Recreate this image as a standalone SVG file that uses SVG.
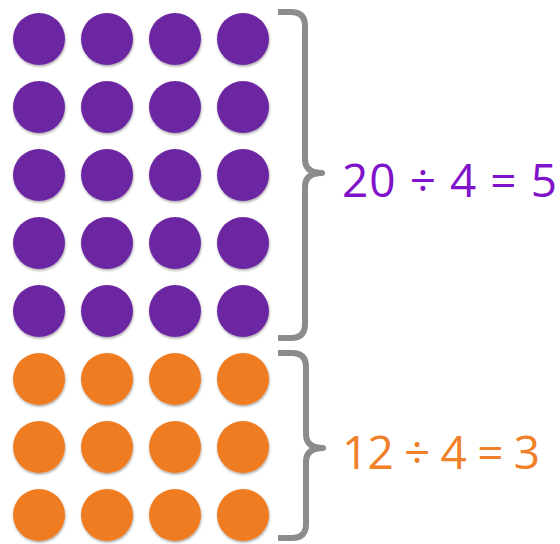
<svg xmlns="http://www.w3.org/2000/svg" width="560" height="544" viewBox="0 0 560 544">
<defs>
<filter id="sh" x="-20%" y="-20%" width="150%" height="150%">
<feDropShadow dx="0.5" dy="1.5" stdDeviation="1" flood-color="#000" flood-opacity="0.35"/>
</filter>
<style>
.p{fill:#6d28a1;filter:url(#sh)}
.o{fill:#f07b22;filter:url(#sh)}
.br{fill:none;stroke:#8c8c8c;stroke-width:6;stroke-linecap:butt;stroke-linejoin:round}
.t{font-family:"Open Sans","Noto Sans","Liberation Sans",sans-serif;font-size:46px}
</style>
</defs>
<rect width="560" height="544" fill="#fff"/>
<g id="purple">
<g id="p1-1"><circle class="p" cx="39" cy="39" r="26"/></g>
<g id="p1-2"><circle class="p" cx="107" cy="39" r="26"/></g>
<g id="p1-3"><circle class="p" cx="175" cy="39" r="26"/></g>
<g id="p1-4"><circle class="p" cx="243" cy="39" r="26"/></g>
<g id="p2-1"><circle class="p" cx="39" cy="107" r="26"/></g>
<g id="p2-2"><circle class="p" cx="107" cy="107" r="26"/></g>
<g id="p2-3"><circle class="p" cx="175" cy="107" r="26"/></g>
<g id="p2-4"><circle class="p" cx="243" cy="107" r="26"/></g>
<g id="p3-1"><circle class="p" cx="39" cy="175" r="26"/></g>
<g id="p3-2"><circle class="p" cx="107" cy="175" r="26"/></g>
<g id="p3-3"><circle class="p" cx="175" cy="175" r="26"/></g>
<g id="p3-4"><circle class="p" cx="243" cy="175" r="26"/></g>
<g id="p4-1"><circle class="p" cx="39" cy="243" r="26"/></g>
<g id="p4-2"><circle class="p" cx="107" cy="243" r="26"/></g>
<g id="p4-3"><circle class="p" cx="175" cy="243" r="26"/></g>
<g id="p4-4"><circle class="p" cx="243" cy="243" r="26"/></g>
<g id="p5-1"><circle class="p" cx="39" cy="311" r="26"/></g>
<g id="p5-2"><circle class="p" cx="107" cy="311" r="26"/></g>
<g id="p5-3"><circle class="p" cx="175" cy="311" r="26"/></g>
<g id="p5-4"><circle class="p" cx="243" cy="311" r="26"/></g>
</g>
<g id="orange">
<g id="o1-1"><circle class="o" cx="39" cy="379" r="26"/></g>
<g id="o1-2"><circle class="o" cx="107" cy="379" r="26"/></g>
<g id="o1-3"><circle class="o" cx="175" cy="379" r="26"/></g>
<g id="o1-4"><circle class="o" cx="243" cy="379" r="26"/></g>
<g id="o2-1"><circle class="o" cx="39" cy="447" r="26"/></g>
<g id="o2-2"><circle class="o" cx="107" cy="447" r="26"/></g>
<g id="o2-3"><circle class="o" cx="175" cy="447" r="26"/></g>
<g id="o2-4"><circle class="o" cx="243" cy="447" r="26"/></g>
<g id="o3-1"><circle class="o" cx="39" cy="515" r="26"/></g>
<g id="o3-2"><circle class="o" cx="107" cy="515" r="26"/></g>
<g id="o3-3"><circle class="o" cx="175" cy="515" r="26"/></g>
<g id="o3-4"><circle class="o" cx="243" cy="515" r="26"/></g>
</g>
<g id="braces">
<path class="br" d="M278,12 H291 Q305,12 305,26 V159 Q305,173 322,173 Q305,173 305,187 V324 Q305,338 291,338 H278"/>
<path class="br" d="M278,353 H292 Q306,353 306,367 V434 Q306,448 323,448 Q306,448 306,462 V524 Q306,538 292,538 H278"/>
</g>
<g id="label-purple"><text class="t" x="342" y="197" fill="#8012c9" textLength="215" lengthAdjust="spacing">20 ÷ 4 = 5</text></g>
<g id="label-orange"><text class="t" x="342" y="469" fill="#f08029" textLength="198" lengthAdjust="spacing">12 ÷ 4 = 3</text></g>
</svg>
